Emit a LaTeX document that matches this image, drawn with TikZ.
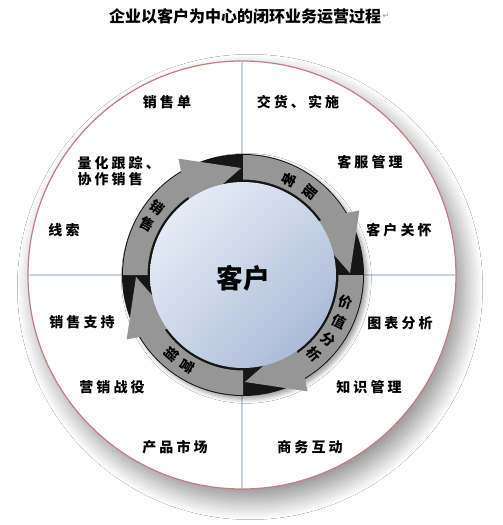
\documentclass[tikz,border=0pt]{standalone}
\usepackage{fontspec}
\usetikzlibrary{shadows.blur,shadings}
\newfontfamily\cjk{Noto Sans CJK SC}
\newfontfamily\cjkwide{Noto Sans CJK SC}[LetterSpace=22]
\newfontfamily\symfont{DejaVu Sans}
\definecolor{hublight}{RGB}{240,244,250}
\definecolor{hubmid}{RGB}{203,214,233}
\definecolor{hubdark}{RGB}{158,175,206}

\tikzset{every picture/.style={line width=0.75pt}}
\tikzset{
	titlelbl/.style={font=\cjk\bfseries\fontsize{12}{14}\selectfont, inner sep=0pt},
	lbl/.style={font=\cjkwide\bfseries\fontsize{10.5}{12.4}\selectfont, align=left, inner sep=0pt},
	ringlbl/.style={font=\cjk\bfseries\fontsize{10.5}{11}\selectfont, inner sep=0pt},
	hublbl/.style={font=\cjk\bfseries\fontsize{20}{22}\selectfont, inner sep=0pt},
	divline/.style={draw={rgb, 255:red, 200; green, 210; blue, 228 }, line width=0.9},
	cyclearrow/.style={fill={rgb, 255:red, 150; green, 150; blue, 150 }, draw=none},
}

\begin{document}
\begin{tikzpicture}[x=0.75pt,y=0.75pt,yscale=-1,xscale=1]
	%set diagram left start at 0, and has height of 525
	\useasboundingbox (0,0) rectangle (503,525);
	\fill [white] (0,0) rectangle (503,525);
	
	% Text Node
	\draw (245,16) node (title) [titlelbl] {企业以客户为中心的闭环业务运营过程};
	% Text Node
	\draw (title.east) node (retmark) [anchor=west, inner sep=0.5pt, font=\symfont\fontsize{6}{6}\selectfont, text={rgb, 255:red, 150; green, 150; blue, 150 }] {↵};
	
	%Shape: Circle [outer]
	\draw [draw={rgb, 255:red, 195; green, 125; blue, 130 }, fill=white, line width=0.9, blur shadow={shadow xshift=6pt, shadow yshift=-9pt, shadow blur radius=14pt, shadow blur steps=25, shadow opacity=45}] (242,275) circle [radius=214];
	%Straight Lines [horizontal]
	\draw [divline] (29,275) -- (455,275);
	%Straight Lines [vertical]
	\draw [divline] (242,62) -- (242,488);
	
	\begin{scope}[shift={(243,275)}]
		%Shape: Circle [ring base]
		\fill [fill={rgb, 255:red, 22; green, 22; blue, 22 }, blur shadow={shadow xshift=2.5pt, shadow yshift=-2.5pt, shadow blur radius=3pt, shadow opacity=35}] (0,0) circle [radius=121];
		%Shape: Arc arrow [kefu]
		\draw [cyclearrow] (-90:120) arc [start angle=-90, end angle=-31, radius=120] -- (-29:133) -- (-1:107) -- (-37:82) -- (-35:95.5) arc [start angle=-35, end angle=-90, radius=95.5] -- cycle ;
		%Shape: Arc arrow [jiazhi]
		\draw [cyclearrow] (0:120) arc [start angle=0, end angle=59, radius=120] -- (61:133) -- (89:107) -- (53:82) -- (55:95.5) arc [start angle=55, end angle=0, radius=95.5] -- cycle ;
		%Shape: Arc arrow [yingxiao]
		\draw [cyclearrow] (90:120) arc [start angle=90, end angle=149, radius=120] -- (151:133) -- (179:107) -- (143:82) -- (145:95.5) arc [start angle=145, end angle=90, radius=95.5] -- cycle ;
		%Shape: Arc arrow [xiaoshou]
		\draw [cyclearrow] (180:120) arc [start angle=180, end angle=239, radius=120] -- (241:133) -- (269:107) -- (233:82) -- (235:95.5) arc [start angle=235, end angle=180, radius=95.5] -- cycle ;
		%Shape: Circle [hub]
		\shade [upper left=hublight, lower right=hubdark, lower left=hubmid, upper right=hubmid] (0,0) circle [radius=93];
		
		% Text Node
		\draw (0,3) node (kehu) [hublbl] {客户};
		% Text Node
		\draw (-142:109) node (xs1) [ringlbl, rotate=-38] {销};
		% Text Node
		\draw (-152:108) node (xs2) [ringlbl, rotate=-28] {售};
		% Text Node
		\draw (-64:106) node (kf1) [ringlbl, rotate=-116] {客};
		% Text Node
		\draw (-51:107) node (kf2) [ringlbl, rotate=-129] {服};
		% Text Node
		\draw (15:106) node (jz1) [ringlbl, rotate=-15] {价};
		% Text Node
		\draw (26:107) node (jz2) [ringlbl, rotate=-26] {值};
		% Text Node
		\draw (37:107) node (jz3) [ringlbl, rotate=-37] {分};
		% Text Node
		\draw (48:107) node (jz4) [ringlbl, rotate=-48] {析};
		% Text Node
		\draw (121:107) node (yx1) [ringlbl, rotate=-121] {营};
		% Text Node
		\draw (132:106) node (yx2) [ringlbl, rotate=-132] {销};
	\end{scope}
	
	% Text Node
	\draw (167,102) node (xiaoshoudan) [lbl] {销售单};
	% Text Node
	\draw (298,102) node (jiaohuo) [lbl] {交货、实施};
	% Text Node
	\draw (77,171) node (lianghua) [lbl, anchor=west] {量化跟踪、\\协作销售};
	% Text Node
	\draw (370,162) node (kefugl) [lbl] {客服管理};
	% Text Node
	\draw (64,230) node (xiansuo) [lbl] {线索};
	% Text Node
	\draw (399,230) node (kehugh) [lbl] {客户关怀};
	% Text Node
	\draw (82,322) node (xszc) [lbl] {销售支持};
	% Text Node
	\draw (400,323) node (tubiao) [lbl] {图表分析};
	% Text Node
	\draw (112,387) node (yxzy) [lbl] {营销战役};
	% Text Node
	\draw (369,387) node (zhishi) [lbl] {知识管理};
	% Text Node
	\draw (175,447) node (chanpin) [lbl] {产品市场};
	% Text Node
	\draw (310,447) node (shangwu) [lbl] {商务互动};
	
\end{tikzpicture}
\end{document}
